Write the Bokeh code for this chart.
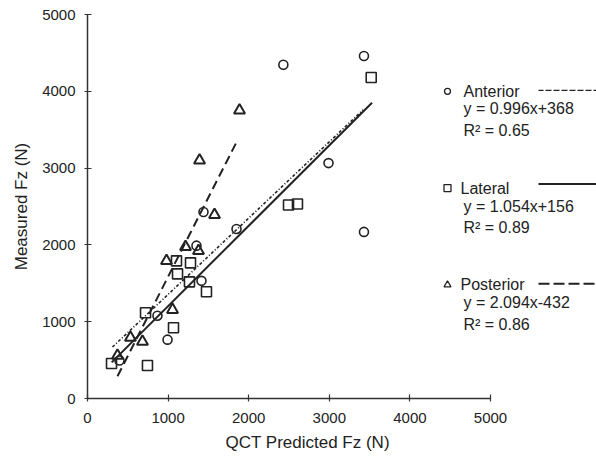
from bokeh.plotting import figure
from bokeh.models import Range1d, Label, PolyAnnotation, FixedTicker, Title
from bokeh.embed import file_html
from bokeh.resources import INLINE

# ---- data ----
anterior_x = [397, 868, 993, 1352, 1414, 1439, 1849, 2430, 2990, 3430, 3430]
anterior_y = [494, 1078, 766, 1990, 1532, 2429, 2208, 4345, 3065, 4460, 2169]

lateral_x = [298, 720, 744, 1067, 1104, 1117, 1265, 1278, 1476, 2494, 2605, 3520]
lateral_y = [455, 1117, 429, 922, 1792, 1623, 1519, 1766, 1390, 2519, 2532, 4180]

posterior_x = [372, 533, 682, 980, 1055, 1216, 1377, 1390, 1576, 1886]
posterior_y = [558, 792, 740, 1792, 1156, 1974, 1922, 3100, 2390, 3753]

# fitted line end points
anterior_fit_x = [310, 3420]
anterior_fit_y = [670, 3760]
lateral_fit_x = [300, 3530]
lateral_fit_y = [470, 3850]
posterior_fit_x = [372, 1850]
posterior_fit_y = [290, 3340]

ticks = [0, 1000, 2000, 3000, 4000, 5000]

legend_names = ["Anterior", "Lateral", "Posterior"]
legend_eqs = ["y = 0.996x+368", "y = 1.054x+156", "y = 2.094x-432"]
legend_r2 = ["R\u00b2 = 0.65", "R\u00b2 = 0.89", "R\u00b2 = 0.86"]

INK = "#222222"
FONT = "Liberation Sans"

W, H = 596, 456
FL, FT, FB = 87, 14, 399        # frame edges (canvas px)
AX_R = 490                      # canvas px where x = 5000 sits
FR = W                          # frame extends to right edge (legend area)


def dx(px):
    return (px - FL) / (AX_R - FL) * 5000


def dy(py):
    return (FB - py) / (FB - FT) * 5000


p = figure(width=W, height=H, output_backend="svg", toolbar_location=None,
           x_range=Range1d(0, dx(FR)), y_range=Range1d(0, 5000),
           min_border_left=FL, min_border_right=0, min_border_top=FT,
           min_border_bottom=H - FB)
p.outline_line_color = None
p.grid.grid_line_color = None
p.background_fill_color = "white"
p.border_fill_color = "white"

for ax in (p.xaxis[0], p.yaxis[0]):
    ax.ticker = FixedTicker(ticks=ticks)
    ax.bounds = (0, 5000)
    ax.minor_tick_line_color = None
    ax.axis_line_color = "#333333"
    ax.axis_line_width = 1.5
    ax.major_tick_line_color = "#333333"
    ax.major_tick_line_width = 1.2
    ax.major_tick_in = 4
    ax.major_tick_out = 3
    ax.major_label_text_font = FONT
    ax.major_label_text_font_size = "15px"
    ax.major_label_text_color = INK

p.xaxis.major_label_standoff = 11
p.yaxis.major_label_standoff = 9

# axis titles
p.add_layout(Title(text="QCT Predicted Fz (N)", align="left", offset=138,
                   text_font=FONT, text_font_size="17px", text_font_style="normal",
                   text_color=INK, standoff=10), "below")
p.add_layout(Title(text="Measured Fz (N)", align="center",
                   text_font=FONT, text_font_size="17px", text_font_style="normal",
                   text_color=INK, standoff=17), "left")

# fit lines
p.line(anterior_fit_x, anterior_fit_y, line_color=INK, line_width=1.6, line_dash="3 2 1 2")
p.line(lateral_fit_x, lateral_fit_y, line_color=INK, line_width=2)
p.line(posterior_fit_x, posterior_fit_y, line_color=INK, line_width=2, line_dash="9 5")

# points
p.scatter(anterior_x, anterior_y, marker="circle", size=9, fill_color=None,
          line_color=INK, line_width=1.6)
p.scatter(lateral_x, lateral_y, marker="square", size=10, fill_color=None,
          line_color=INK, line_width=1.6)
p.scatter(posterior_x, posterior_y, marker="triangle", size=11, fill_color=None,
          line_color=INK, line_width=2)

# ---- custom legend (layout positions in canvas pixels) ----
leg_row_y = [91, 188, 285]
leg_eq_y = [108, 207, 303]
leg_r2_y = [130, 228, 325]
leg_line_y = [90, 184, 284]
leg_name_x = [463, 460, 460]
leg_markers = ["circle", "square", "triangle"]
leg_msize = [6, 7, 7]
leg_dash = ["5 3", "solid", "10 5"]
leg_width = [1.3, 2, 2]

for i in range(3):
    p.scatter([dx(447)], [dy(leg_row_y[i])], marker=leg_markers[i], size=leg_msize[i],
              fill_color=None, line_color=INK, line_width=1.3)
    p.add_layout(Label(x=dx(leg_name_x[i]), y=dy(leg_row_y[i]), text=legend_names[i],
                       text_font=FONT, text_font_size="16px", text_color=INK,
                       text_baseline="middle"))
    p.add_layout(Label(x=dx(463), y=dy(leg_eq_y[i]), text=legend_eqs[i],
                       text_font=FONT, text_font_size="16px", text_color=INK,
                       text_baseline="middle"))
    p.add_layout(Label(x=dx(463), y=dy(leg_r2_y[i]), text=legend_r2[i],
                       text_font=FONT, text_font_size="16px", text_color=INK,
                       text_baseline="middle"))
    ly = dy(leg_line_y[i])
    p.add_layout(PolyAnnotation(xs=[dx(538), dx(596), dx(596), dx(538)], ys=[ly, ly, ly, ly],
                                fill_alpha=0, line_alpha=1, line_color=INK,
                                line_width=leg_width[i], line_dash=leg_dash[i]))

open("out.html", "w").write(file_html(p, INLINE))
